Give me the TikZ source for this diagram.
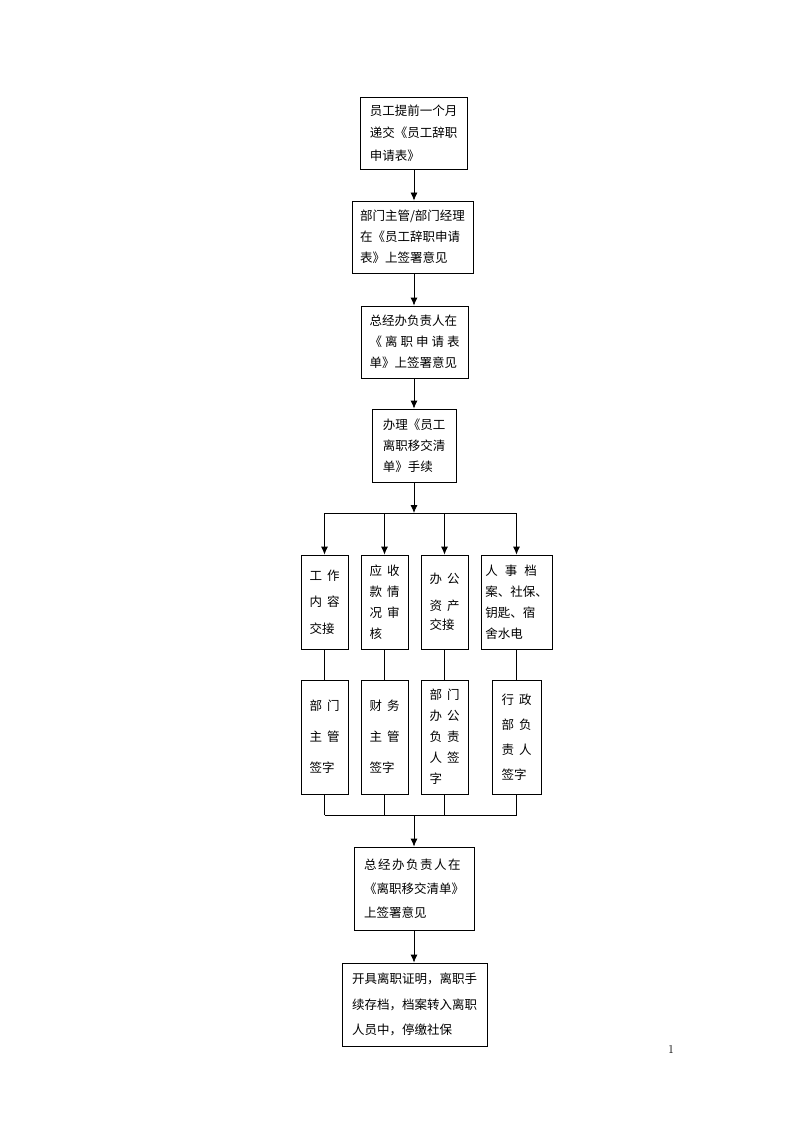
\documentclass[tikz,border=0pt]{standalone}
\usepackage{fontspec}
\newfontfamily\cjk{Noto Sans CJK SC}
\usetikzlibrary{arrows.meta}
\newcommand\gp[1][3pt]{\hspace{#1}}
\tikzset{
  box/.style={draw, line width=0.8pt, inner sep=0pt, align=left},
  ls/.style={font=\cjk\fontsize{12.5}{#1}\selectfont},
  arr/.style={line width=0.8pt, -{Latex[length=8pt,width=7pt]}},
  ln/.style={line width=0.8pt}
}
\begin{document}
\begin{tikzpicture}[x=1pt,y=-1pt]
\useasboundingbox (0,0) rectangle (794,1123);
% main column
\node[box, ls=22.5, minimum width=107pt, minimum height=72pt] (b1) at (413.5,133)
  {员工提前一个月\\递交《员工辞职\\申请表》};
\node[box, ls=21, minimum width=121pt, minimum height=72pt] (b2) at (412.5,237)
  {部门主管/部门经理\\在《员工辞职申请\\表》上签署意见};
\node[box, ls=21, minimum width=107pt, minimum height=72pt] (b3) at (414.5,342)
  {总经办负责人在\\《\gp 离\gp 职\gp 申\gp 请\gp 表\\单》上签署意见};
\node[box, ls=21, minimum width=84pt, minimum height=73pt] (b4) at (414,445.5)
  {办理《员工\\离职移交清\\单》手续};
% first row of four
\node[box, ls=26.5, minimum width=47pt, minimum height=94pt] (b5a) at (324.5,602)
  {工\gp[5pt]作\\内\gp[5pt]容\\交接};
\node[box, ls=21, minimum width=47pt, minimum height=94pt] (b5b) at (384.5,602)
  {应\gp[5pt]收\\款\gp[5pt]情\\况\gp[5pt]审\\核};
\node[box, ls=19, minimum width=47pt, minimum height=94pt] (b5c) at (444.5,602)
  {办\gp[5pt]公\\[8pt]资\gp[5pt]产\\交接};
\node[box, ls=21, minimum width=71pt, minimum height=94pt] (b5d) at (516.5,602)
  {人\gp[7pt]事\gp[7pt]档\\案、社保、\\钥匙、宿\\舍水电};
% second row of four
\node[box, ls=31, minimum width=47pt, minimum height=114pt] (b6a) at (324.5,737)
  {部\gp[5pt]门\\主\gp[5pt]管\\签字};
\node[box, ls=31, minimum width=47pt, minimum height=114pt] (b6b) at (384.5,737)
  {财\gp[5pt]务\\主\gp[5pt]管\\签字};
\node[box, ls=21, minimum width=47pt, minimum height=114pt] (b6c) at (444.5,737)
  {部\gp[5pt]门\\办\gp[5pt]公\\负\gp[5pt]责\\人\gp[5pt]签\\字};
\node[box, ls=25, minimum width=49pt, minimum height=114pt] (b6d) at (516.5,737)
  {行\gp[5pt]政\\部\gp[5pt]负\\责\gp[5pt]人\\签字};
% bottom
\node[box, ls=24, minimum width=120pt, minimum height=83pt] (b7) at (414,888.5)
  {总\gp[1.5pt]经\gp[1.5pt]办\gp[1.5pt]负\gp[1.5pt]责\gp[1.5pt]人\gp[1.5pt]在\\《离职移交清单》\\上签署意见};
\node[box, ls=25.5, minimum width=145pt, minimum height=83pt] (b8) at (414.5,1004.5)
  {开具离职证明，离职手\\续存档，档案转入离职\\人员中，停缴社保};
\node[font=\fontsize{12}{14}\selectfont, inner sep=0pt] (pg) at (671,1049) {1};
% connectors
\coordinate (split) at (414,513);
\coordinate (join) at (414,815);
\draw[arr] (b1.south -| 414,0) -- (414,0 |- b2.north);
\draw[arr] (b2.south -| 414,0) -- (414,0 |- b3.north);
\draw[arr] (b3.south -| 414,0) -- (414,0 |- b4.north);
\draw[arr] (b4.south) -- (split);
\draw[ln] (b5a.north |- split) -- (b5d.north |- split);
\foreach \b in {b5a,b5b,b5c,b5d} \draw[arr] (\b.north |- split) -- (\b.north);
\draw[ln] (b5a.south) -- (b6a.north);
\draw[ln] (b5b.south) -- (b6b.north);
\draw[ln] (b5c.south) -- (b6c.north);
\draw[ln] (b5d.south) -- (b6d.north);
\foreach \b in {b6a,b6b,b6c,b6d} \draw[ln] (\b.south) -- (\b.south |- join);
\draw[ln] (b6a.south |- join) -- (b6d.south |- join);
\draw[arr] (join) -- (join |- b7.north);
\draw[arr] (b7.south) -- (b7.south |- b8.north);
\end{tikzpicture}
\end{document}
